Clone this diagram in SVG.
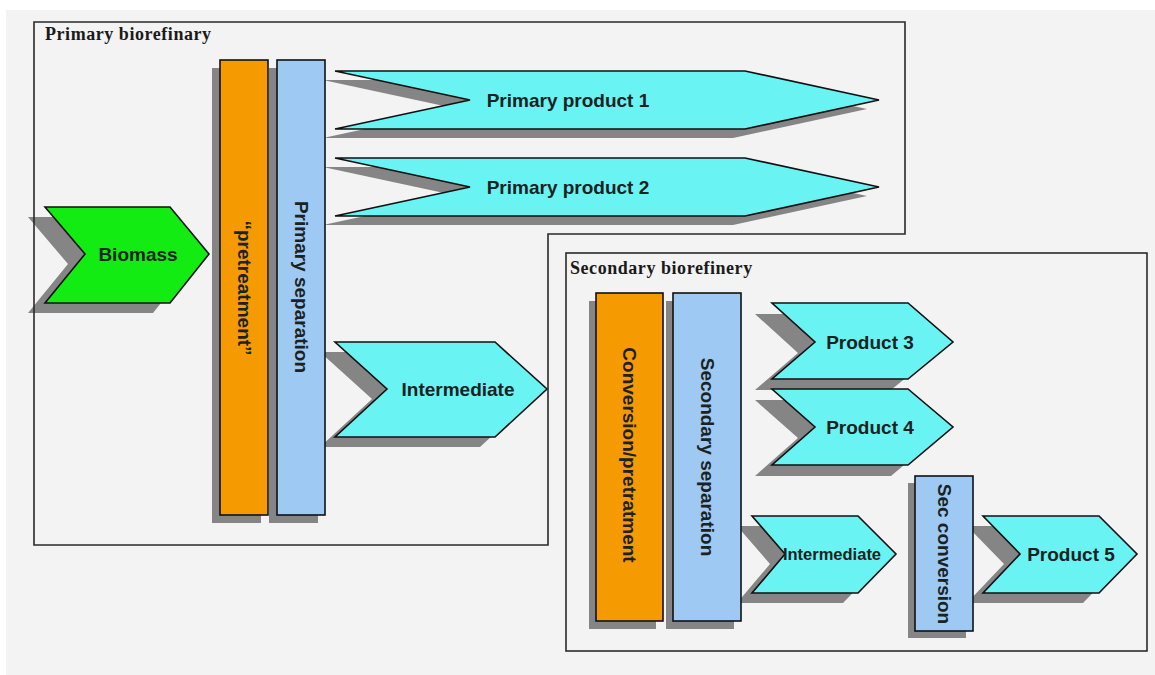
<svg xmlns="http://www.w3.org/2000/svg" width="1155" height="675" viewBox="0 0 1155 675">
<style>
.bg{fill:#f3f3f3}
.frame{fill:none;stroke:#2a2a2a;stroke-width:1.6}
.title{font-family:"Liberation Serif","Times New Roman",serif;font-weight:bold;font-size:18px;letter-spacing:0.55px;fill:#1a1a1a}
.shadow{fill:#858585}
.cyan{fill:#6af3f3;stroke:#111;stroke-width:1.6;stroke-linejoin:miter}
.green{fill:#12ec12;stroke:#111;stroke-width:1.6}
.orange{fill:#f59a00;stroke:#111;stroke-width:1.6}
.blue{fill:#9ec9f2;stroke:#111;stroke-width:1.6}
.lbl{font-family:"Liberation Sans",Arial,sans-serif;font-weight:bold;font-size:19px;fill:#1a2222;text-anchor:middle;dominant-baseline:central}
.small{font-size:16.5px}
</style>
<rect x="0" y="0" width="1155" height="675" fill="#ffffff"/>
<rect class="bg" x="6" y="10" width="1149" height="665"/>

<g id="biomass">
<polygon class="shadow" transform="translate(-17,10)" points="45,207 170,207 209,254 170,303 45,303 85,254"/>
<polygon class="green" points="45,207 170,207 209,254 170,303 45,303 85,254"/>
<text class="lbl" x="138" y="254">Biomass</text>
</g>

<g id="primary-product-1">
<polygon class="shadow" transform="translate(-12,9)" points="335,71 745,71 879,100 745,129 335,129 470,100"/>
<polygon class="cyan" points="335,71 745,71 879,100 745,129 335,129 470,100"/>
<text class="lbl" x="568" y="100">Primary product 1</text>
</g>

<g id="primary-product-2">
<polygon class="shadow" transform="translate(-12,9)" points="335,158 745,158 879,187 745,216 335,216 470,187"/>
<polygon class="cyan" points="335,158 745,158 879,187 745,216 335,216 470,187"/>
<text class="lbl" x="568" y="187">Primary product 2</text>
</g>

<g id="intermediate">
<polygon class="shadow" transform="translate(-15,10)" points="335,342 495,342 547,389 495,437 335,437 387,389"/>
<polygon class="cyan" points="335,342 495,342 547,389 495,437 335,437 387,389"/>
<text class="lbl" x="458" y="389">Intermediate</text>
</g>

<g id="product-3">
<polygon class="shadow" transform="translate(-17,11)" points="772,303 908,303 953,342 908,379 772,379 815,342"/>
<polygon class="cyan" points="772,303 908,303 953,342 908,379 772,379 815,342"/>
<text class="lbl" x="870" y="342">Product 3</text>
</g>

<g id="product-4">
<polygon class="shadow" transform="translate(-17,11)" points="772,389 908,389 953,427 908,465 772,465 815,427"/>
<polygon class="cyan" points="772,389 908,389 953,427 908,465 772,465 815,427"/>
<text class="lbl" x="870" y="427">Product 4</text>
</g>

<g id="intermediate-2">
<polygon class="shadow" transform="translate(-15,10)" points="752,516 858,516 896,554 858,593 752,593 785,554"/>
<polygon class="cyan" points="752,516 858,516 896,554 858,593 752,593 785,554"/>
<text class="lbl small" x="832" y="554">Intermediate</text>
</g>

<g id="product-5">
<polygon class="shadow" transform="translate(-16,10)" points="983,516 1099,516 1137,554 1099,593 983,593 1020,554"/>
<polygon class="cyan" points="983,516 1099,516 1137,554 1099,593 983,593 1020,554"/>
<text class="lbl" x="1071" y="554">Product 5</text>
</g>

<g id="pretreatment">
<rect class="shadow" x="212" y="68" width="49" height="455"/>
<rect class="orange" x="220" y="60" width="48" height="455"/>
<text class="lbl" transform="rotate(90 244 288)" x="244" y="288">“pretreatment”</text>
</g>

<g id="primary-separation">
<rect class="shadow" x="269" y="68" width="49" height="455"/>
<rect class="blue" x="277" y="60" width="48" height="455"/>
<text class="lbl" transform="rotate(90 301 287)" x="301" y="287">Primary separation</text>
</g>

<g id="conversion-pretreatment">
<rect class="shadow" x="589" y="301" width="67" height="328"/>
<rect class="orange" x="596" y="293" width="67" height="328"/>
<text class="lbl" transform="rotate(90 629.5 455)" x="629.5" y="455">Conversion/pretratment</text>
</g>

<g id="secondary-separation">
<rect class="shadow" x="666" y="301" width="68" height="328"/>
<rect class="blue" x="673" y="293" width="68" height="328"/>
<text class="lbl" transform="rotate(90 707 457)" x="707" y="457">Secondary separation</text>
</g>

<g id="sec-conversion">
<rect class="shadow" x="908" y="483" width="58" height="155"/>
<rect class="blue" x="915" y="476" width="58" height="155"/>
<text class="lbl" transform="rotate(90 944 554)" x="944" y="554">Sec conversion</text>
</g>

<g id="connectors"></g>

<g id="primary-biorefinery">
<path class="frame" d="M34,22 H905 V234 H548 V545 H34 Z"/>
<text class="title" x="45" y="40">Primary biorefinary</text>
</g>

<g id="secondary-biorefinery">
<rect class="frame" x="566" y="253" width="581" height="398"/>
<text class="title" x="570" y="274">Secondary biorefinery</text>
</g>
</svg>
